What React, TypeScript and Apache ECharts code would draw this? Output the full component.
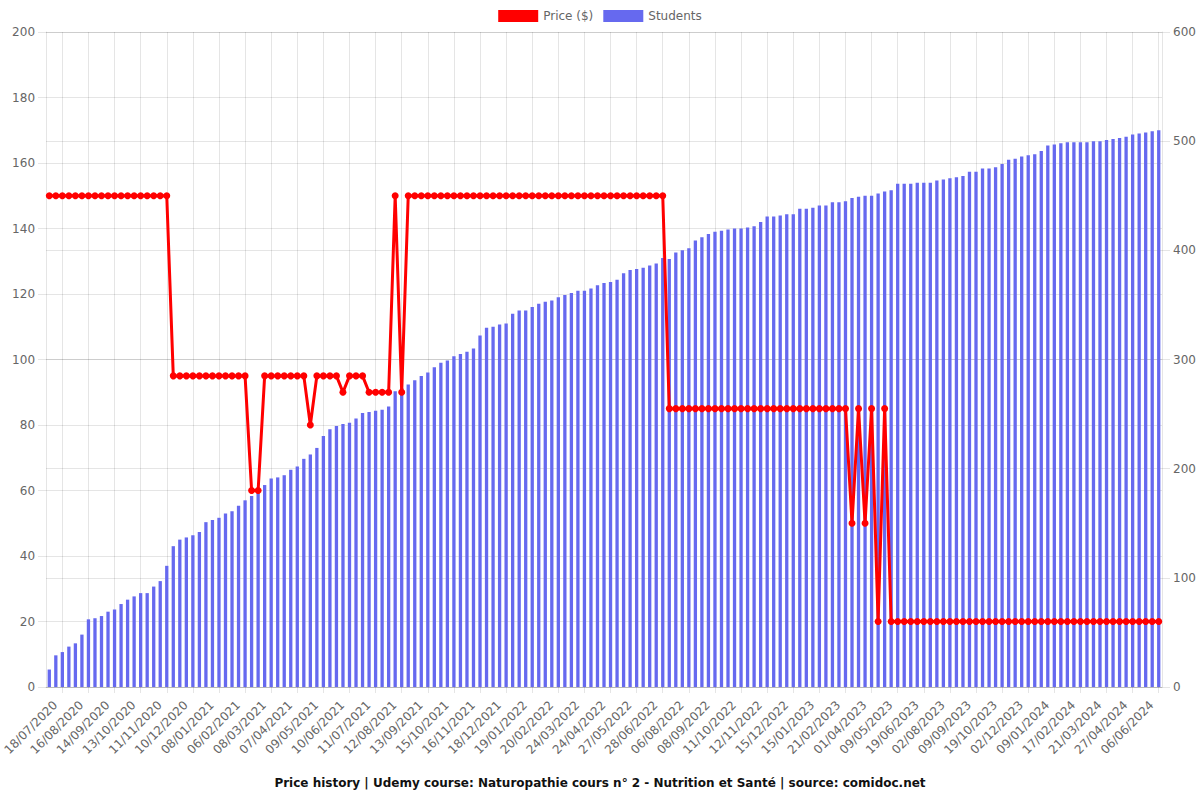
import React, { useEffect, useRef } from "react";
import * as echarts from "echarts";

// Tick labels shown on the x axis (every 4th category, starting at index 2)
const tickLabels: string[] = [
  "18/07/2020", "16/08/2020", "14/09/2020", "13/10/2020", "11/11/2020", "10/12/2020",
  "08/01/2021", "06/02/2021", "08/03/2021", "07/04/2021", "09/05/2021", "10/06/2021",
  "11/07/2021", "12/08/2021", "13/09/2021", "15/10/2021", "16/11/2021", "18/12/2021",
  "19/01/2022", "20/02/2022", "24/03/2022", "24/04/2022", "27/05/2022", "28/06/2022",
  "06/08/2022", "08/09/2022", "11/10/2022", "12/11/2022", "15/12/2022", "15/01/2023",
  "21/02/2023", "01/04/2023", "09/05/2023", "19/06/2023", "02/08/2023", "09/09/2023",
  "19/10/2023", "02/12/2023", "09/01/2024", "17/02/2024", "21/03/2024", "27/04/2024",
  "06/06/2024",
];

// Students (right axis)
const students: number[] = [
  16, 29, 32, 37, 40, 48, 62, 63, 65, 69,
  71, 76, 80, 83, 86, 86, 92, 97, 111, 129,
  135, 137, 139, 142, 151, 153, 155, 159, 161, 166,
  171, 175, 180, 185, 191, 192, 194, 199, 202, 209,
  213, 219, 230, 236, 239, 241, 242, 246, 251, 252,
  253, 254, 257, 271, 274, 277, 281, 285, 288, 293,
  297, 299, 303, 305, 307, 310, 322, 329, 330, 332,
  333, 342, 345, 345, 348, 351, 353, 354, 357, 359,
  361, 363, 363, 365, 368, 370, 371, 373, 379, 382,
  383, 384, 386, 388, 393, 392, 398, 400, 402, 409,
  412, 415, 417, 418, 419, 420, 420, 421, 422, 426,
  431, 431, 432, 433, 433, 438, 438, 439, 441, 441,
  444, 444, 445, 448, 449, 450, 450, 452, 454, 455,
  461, 461, 461, 462, 462, 462, 464, 465, 466, 467,
  468, 472, 472, 475, 475, 476, 479, 483, 484, 486,
  487, 488, 491, 496, 497, 498, 499, 499, 499, 499,
  500, 500, 501, 502, 503, 504, 506, 507, 508, 509,
  510,
];

// Price ($) (left axis)
const prices: number[] = [
  150, 150, 150, 150, 150, 150, 150, 150, 150, 150,
  150, 150, 150, 150, 150, 150, 150, 150, 150, 95,
  95, 95, 95, 95, 95, 95, 95, 95, 95, 95,
  95, 60, 60, 95, 95, 95, 95, 95, 95, 95,
  80, 95, 95, 95, 95, 90, 95, 95, 95, 90,
  90, 90, 90, 150, 90, 150, 150, 150, 150, 150,
  150, 150, 150, 150, 150, 150, 150, 150, 150, 150,
  150, 150, 150, 150, 150, 150, 150, 150, 150, 150,
  150, 150, 150, 150, 150, 150, 150, 150, 150, 150,
  150, 150, 150, 150, 150, 85, 85, 85, 85, 85,
  85, 85, 85, 85, 85, 85, 85, 85, 85, 85,
  85, 85, 85, 85, 85, 85, 85, 85, 85, 85,
  85, 85, 85, 50, 85, 50, 85, 20, 85, 20,
  20, 20, 20, 20, 20, 20, 20, 20, 20, 20,
  20, 20, 20, 20, 20, 20, 20, 20, 20, 20,
  20, 20, 20, 20, 20, 20, 20, 20, 20, 20,
  20, 20, 20, 20, 20, 20, 20, 20, 20, 20,
  20,
];

const TITLE =
  "Price history | Udemy course: Naturopathie cours n° 2 - Nutrition et Santé | source: comidoc.net";

const categories: string[] = students.map((_, i) =>
  i % 4 === 2 ? tickLabels[(i - 2) / 4] : "#" + i
);
const showTick = (i: number) => i % 4 === 2;

const GRID = "rgba(0,0,0,0.1)";
const FONT = "DejaVu Sans";

export default function App() {
  const ref = useRef<HTMLDivElement>(null);
  useEffect(() => {
    if (!ref.current) return;
    const chart = echarts.init(ref.current, undefined, { renderer: "svg" });
    chart.setOption({
      animation: false,
      textStyle: { fontFamily: FONT },
      title: {
        text: TITLE,
        left: "center",
        top: 772,
        textStyle: { fontFamily: FONT, fontSize: 12, fontWeight: "bold", color: "#111" },
      },
      legend: {
        top: 5,
        left: "center",
        itemWidth: 40,
        itemHeight: 12,
        itemGap: 10,
        icon: "rect",
        textStyle: { fontFamily: FONT, fontSize: 12, color: "#666" },
        data: ["Price ($)", "Students"],
      },
      grid: { left: 46, right: 38, top: 32, bottom: 113, containLabel: false },
      xAxis: {
        type: "category",
        data: categories,
        boundaryGap: true,
        axisLine: { show: true, lineStyle: { color: GRID } },
        axisTick: {
          show: true,
          alignWithLabel: true,
          interval: showTick,
          length: 6,
          lineStyle: { color: GRID },
        },
        axisLabel: {
          interval: showTick,
          rotate: 45,
          color: "#666",
          fontSize: 12,
          fontFamily: FONT,
          margin: 9,
          padding: [0, 10, 0, 0],
        },
        splitLine: {
          show: true,
          interval: showTick,
          alignWithLabel: true,
          lineStyle: { color: GRID },
        },
      },
      yAxis: [
        {
          type: "value",
          position: "left",
          min: 0,
          max: 200,
          interval: 20,
          axisLine: { show: true, lineStyle: { color: GRID } },
          axisTick: { show: true, length: 8, lineStyle: { color: GRID } },
          axisLabel: { color: "#666", fontSize: 12, fontFamily: FONT, margin: 11 },
          splitLine: { show: true, lineStyle: { color: GRID } },
        },
        {
          type: "value",
          position: "right",
          min: 0,
          max: 600,
          interval: 100,
          axisLine: { show: true, lineStyle: { color: GRID } },
          axisTick: { show: true, length: 8, lineStyle: { color: GRID } },
          axisLabel: { color: "#666", fontSize: 12, fontFamily: FONT, margin: 11 },
          splitLine: { show: true, lineStyle: { color: GRID } },
        },
      ],
      series: [
        {
          name: "Price ($)",
          type: "line",
          yAxisIndex: 0,
          data: prices,
          z: 5,
          symbol: "circle",
          symbolSize: 7,
          showAllSymbol: true,
          itemStyle: { color: "#ff0000" },
          lineStyle: { color: "#ff0000", width: 3 },
        },
        {
          name: "Students",
          type: "bar",
          yAxisIndex: 1,
          data: students,
          barWidth: 3.3,
          z: 2,
          itemStyle: { color: "#6669ef" },
        },
      ],
    });
    return () => chart.dispose();
  }, []);
  return (
    <div
      ref={ref}
      style={{ position: "fixed", left: 0, top: 0, width: 1200, height: 800, background: "#fff" }}
    />
  );
}
